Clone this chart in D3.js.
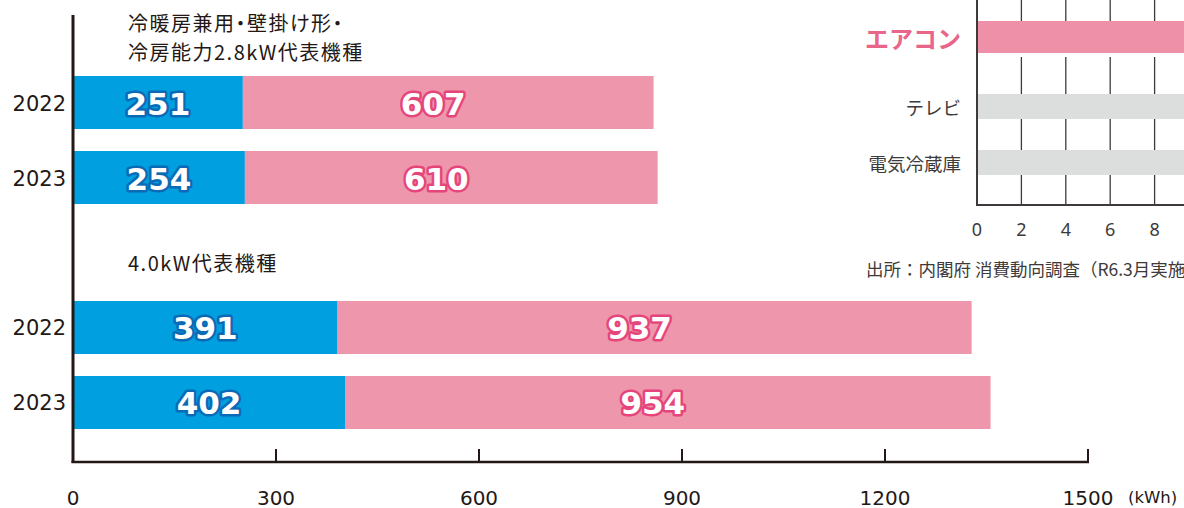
<!DOCTYPE html>
<html><head><meta charset="utf-8">
<script src="https://cdn.jsdelivr.net/npm/d3@7"></script>
<style>
html,body{margin:0;padding:0;background:#fff;overflow:hidden}
svg{display:block}
</style></head>
<body>
<svg id="c" width="1184" height="508"></svg>
<script>
// ---- data ----
const rowIds = ["a2022", "a2023", "b2022", "b2023"];
const years = ["2022", "2023", "2022", "2023"];
const seriesBlue = [251, 254, 391, 402];
const seriesPink = [607, 610, 937, 954];
const groupTitles = [["冷暖房兼用・壁掛け形・", "冷房能力2.8kW代表機種"], ["4.0kW代表機種"]];
const xTicks = [0, 300, 600, 900, 1200, 1500];
const unitLabel = "(kWh)";
// inset chart
const insetCats = ["エアコン", "テレビ", "電気冷蔵庫"];
const insetValues = [9.6, 9.6, 9.9];
const insetTicks = [0, 2, 4, 6, 8];
const sourceText = "出所：内閣府 消費動向調査（R6.3月実施）";

const svg = d3.select("#c");
const ink = "#231815";
const blue = "#009fdf", pink = "#ee96ab";
const JP = "'Noto Sans CJK JP','Noto Sans',sans-serif";

// ---- main chart scales ----
const x = d3.scaleLinear().domain([0, 1500]).range([73, 1088]);
const y = d3.scaleBand().domain(["a2022", "a2023", "_gap", "b2022", "b2023"])
  .range([65, 440]).paddingInner(0.2933).paddingOuter(0.1467);

const rows = rowIds.map((id, i) => ({id, year: years[i], b: seriesBlue[i], p: seriesPink[i]}));

// ---- inset ----
const ix = d3.scaleLinear().domain([0, 10]).range([977, 1199]);
const iy = d3.scaleOrdinal().domain(insetCats).range([21, 94, 150]);
const ih = [32, 25, 25];
const ins = svg.append("g");
ins.selectAll("line.grid").data(insetTicks).join("line").attr("class", "grid")
  .attr("x1", d => ix(d)).attr("x2", d => ix(d)).attr("y1", 0).attr("y2", 205)
  .attr("stroke", "#3e3a39").attr("stroke-width", d => d === 0 ? 2 : 1.3);
// small white gap below the highlighted bar
ins.append("rect").attr("x", ix(0) + 1).attr("y", iy(insetCats[0]))
  .attr("width", 1184 - ix(0)).attr("height", ih[0] + 4).attr("fill", "#fff");
ins.selectAll("rect.bar").data(insetCats).join("rect").attr("class", "bar")
  .attr("x", ix(0) + 1).attr("y", d => iy(d)).attr("width", (d, i) => ix(insetValues[i]) - ix(0))
  .attr("height", (d, i) => ih[i]).attr("fill", (d, i) => i === 0 ? "#ee90a8" : "#dcdddd");
ins.append("line").attr("x1", ix(0) - 1).attr("x2", 1184).attr("y1", 205).attr("y2", 205)
  .attr("stroke", "#3e3a39").attr("stroke-width", 2);
ins.selectAll("text.cat").data(insetCats).join("text").attr("class", "cat")
  .attr("x", 961).attr("y", (d, i) => iy(d) + ih[i] / 2)
  .attr("text-anchor", "end").attr("dominant-baseline", "central")
  .attr("font-family", JP)
  .attr("font-size", (d, i) => i === 0 ? 24 : 18.5)
  .attr("font-weight", (d, i) => i === 0 ? 700 : 400)
  .attr("fill", (d, i) => i === 0 ? "#e8668a" : "#3e3a39")
  .text(d => d);
ins.selectAll("text.tk").data(insetTicks).join("text").attr("class", "tk")
  .attr("x", d => ix(d)).attr("y", 229).attr("text-anchor", "middle").attr("dominant-baseline", "central")
  .attr("font-family", "'Noto Sans',sans-serif").attr("font-size", 18).attr("fill", "#3e3a39")
  .text(d => d);
ins.append("text").attr("x", 866).attr("y", 268).attr("dominant-baseline", "central")
  .attr("font-family", JP).attr("font-size", 17.5).attr("fill", "#3e3a39").text(sourceText);

// ---- bars ----
const g = svg.append("g");
g.selectAll("rect.b").data(rows).join("rect").attr("class", "b")
  .attr("x", x(0)).attr("y", d => y(d.id)).attr("width", d => x(d.b) - x(0))
  .attr("height", y.bandwidth()).attr("fill", blue);
g.selectAll("rect.p").data(rows).join("rect").attr("class", "p")
  .attr("x", d => x(d.b)).attr("y", d => y(d.id)).attr("width", d => x(d.b + d.p) - x(d.b))
  .attr("height", y.bandwidth()).attr("fill", pink);

// value labels
function vlabel(sel, getX, getV, strokeCol) {
  sel.attr("x", getX).attr("y", d => y(d.id) + y.bandwidth() / 2 + 1)
    .attr("text-anchor", "middle").attr("dominant-baseline", "central")
    .attr("font-family", "'DejaVu Sans',sans-serif").attr("font-weight", 700).attr("font-size", 31)
    .attr("fill", "#fff").attr("stroke", strokeCol).attr("stroke-width", 5)
    .attr("stroke-linejoin", "round").attr("paint-order", "stroke")
    .text(getV);
}
g.selectAll("text.bl").data(rows).join("text").attr("class", "bl")
  .call(vlabel, d => x(d.b / 2), d => d.b, "#0a6ab5");
g.selectAll("text.pl").data(rows).join("text").attr("class", "pl")
  .call(vlabel, d => x(d.b + d.p / 2) - 15, d => d.p, "#e5457a");

// year labels
g.selectAll("text.yr").data(rows).join("text").attr("class", "yr")
  .attr("x", 66).attr("y", d => y(d.id) + y.bandwidth() / 2 + 1)
  .attr("text-anchor", "end").attr("dominant-baseline", "central")
  .attr("font-family", "'DejaVu Sans',sans-serif").attr("font-size", 21).attr("fill", ink)
  .text(d => d.year);

// group titles (proportional alternates -> narrow middle dots)
const titleY = [[22, 51], [262]];
groupTitles.forEach((lines, gi) => {
  lines.forEach((t, li) => {
    g.append("text").attr("x", 128).attr("y", titleY[gi][li]).attr("dominant-baseline", "central")
      .attr("font-family", JP).attr("font-size", 20).attr("letter-spacing", 1.5).attr("fill", ink)
      .style("font-feature-settings", li === 0 && gi === 0 ? "'palt'" : "normal")
      .text(t);
  });
});

// ---- axes ----
g.append("line").attr("x1", x(0)).attr("x2", x(0)).attr("y1", 15).attr("y2", 463)
  .attr("stroke", ink).attr("stroke-width", 3);
g.append("line").attr("x1", x(0) - 1.5).attr("x2", x(1500) + 1).attr("y1", 462).attr("y2", 462)
  .attr("stroke", ink).attr("stroke-width", 2.5);
g.selectAll("line.tk").data(xTicks).join("line").attr("class", "tk")
  .attr("x1", d => x(d)).attr("x2", d => x(d)).attr("y1", 449).attr("y2", 462)
  .attr("stroke", ink).attr("stroke-width", 2);
g.selectAll("text.xt").data(xTicks).join("text").attr("class", "xt")
  .attr("x", d => x(d)).attr("y", 497.5).attr("text-anchor", "middle").attr("dominant-baseline", "central")
  .attr("font-family", "'DejaVu Sans',sans-serif").attr("font-size", 20)
  .attr("fill", ink).text(d => d);
g.append("text").attr("x", 1128).attr("y", 497).attr("dominant-baseline", "central")
  .attr("font-family", "'DejaVu Sans',sans-serif").attr("font-size", 16.5).attr("fill", ink).text(unitLabel);
</script>
</body></html>
